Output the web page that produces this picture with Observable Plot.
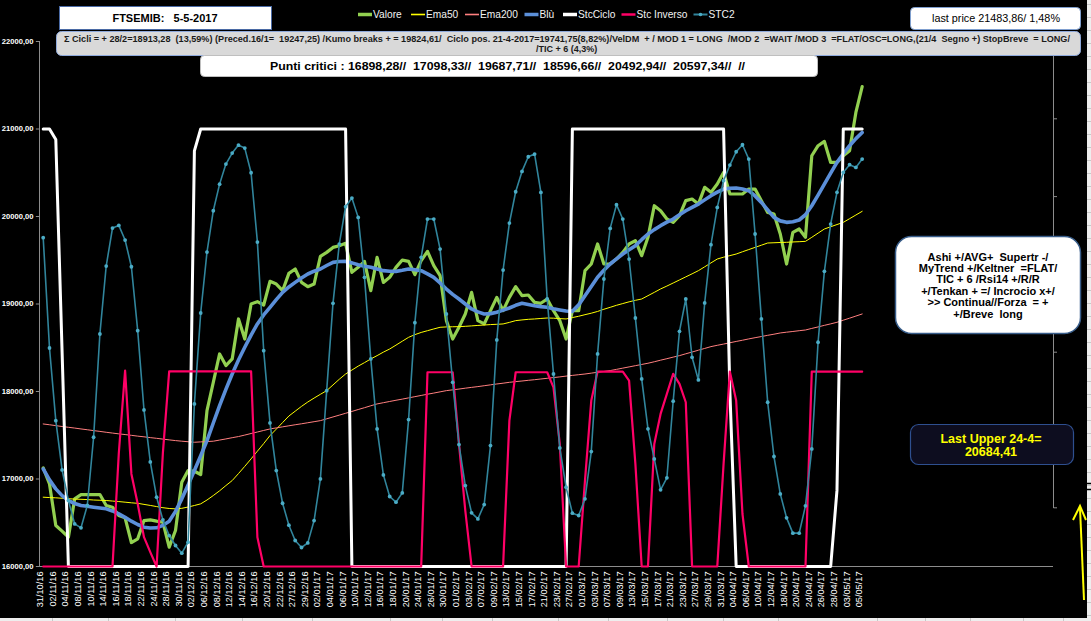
<!DOCTYPE html>
<html><head><meta charset="utf-8">
<script src="https://cdn.jsdelivr.net/npm/d3@7"></script>
<script src="https://cdn.jsdelivr.net/npm/@observablehq/plot@0.6"></script>
<style>
html,body{margin:0;padding:0;background:#000;width:1091px;height:621px;overflow:hidden}
#wrap{position:relative;width:1091px;height:621px;background:#000}
#wrap > svg{position:absolute;left:0;top:0}
</style></head>
<body><div id="wrap"></div>
<script>
// ---- tick labels (every other trading day) ----
const xLabels = ["31/10/16","02/11/16","04/11/16","08/11/16","10/11/16","14/11/16","16/11/16","18/11/16","22/11/16","24/11/16","28/11/16","30/11/16","02/12/16","06/12/16","08/12/16","12/12/16","14/12/16","16/12/16","20/12/16","22/12/16","27/12/16","29/12/16","02/01/17","04/01/17","06/01/17","10/01/17","12/01/17","16/01/17","18/01/17","20/01/17","24/01/17","26/01/17","30/01/17","01/02/17","03/02/17","07/02/17","09/02/17","13/02/17","15/02/17","17/02/17","21/02/17","23/02/17","27/02/17","01/03/17","03/03/17","07/03/17","09/03/17","13/03/17","15/03/17","17/03/17","21/03/17","23/03/17","27/03/17","29/03/17","31/03/17","04/04/17","06/04/17","10/04/17","12/04/17","18/04/17","20/04/17","24/04/17","26/04/17","28/04/17","03/05/17","05/05/17"];
const yTicks = [16000,17000,18000,19000,20000,21000,22000];

// ---- series (one value per trading day, 131 days) ----
const valore = [17127,16944,16468,16404,16335,16773,16822,16822,16822,16822,16697,16678,16582,16556,16274,16316,16525,16533,16518,16506,16221,16411,16963,17097,17089,17051,17782,18105,18429,18296,18372,18829,18600,19000,19027,18989,19259,19228,19152,19350,19400,19247,19198,19228,19544,19590,19647,19666,19693,19362,19419,19487,19152,19533,19247,19305,19419,19502,19487,19335,19495,19601,19438,19324,18810,18600,18734,18886,19133,18810,18772,18924,19076,18924,19076,19198,19095,19103,19019,19008,19057,18924,18810,18600,18924,18924,19381,19457,19686,19457,19457,19514,19590,19686,19724,19552,19762,20123,20066,19971,19933,20009,20181,20200,20142,20333,20276,20371,20504,20257,20257,20257,20314,20314,20181,20047,20028,19800,19457,19819,19857,19762,20694,20809,20858,20618,20618,20694,20752,21189,21484];
const ema50 = [16792,16788,16785,16780,16775,16770,16768,16765,16760,16757,16754,16748,16742,16735,16728,16722,16710,16698,16685,16672,16663,16659,16665,16680,16697,16716,16760,16811,16865,16925,16982,17062,17145,17230,17318,17405,17496,17570,17645,17720,17775,17830,17880,17925,17968,18010,18075,18140,18200,18245,18290,18330,18372,18410,18450,18486,18530,18575,18619,18650,18675,18695,18715,18734,18738,18740,18741,18745,18750,18755,18760,18765,18768,18772,18790,18810,18818,18825,18829,18835,18840,18838,18833,18829,18845,18860,18878,18895,18915,18940,18962,18985,19005,19025,19042,19057,19095,19133,19172,19205,19240,19275,19310,19345,19381,19425,19470,19514,19535,19553,19571,19597,19622,19647,19672,19697,19700,19703,19705,19709,19712,19716,19762,19810,19857,19883,19908,19933,19975,20017,20059];
const ema200 = [17629,17620,17610,17600,17591,17582,17572,17563,17553,17544,17534,17525,17516,17508,17499,17490,17482,17473,17465,17456,17447,17439,17432,17426,17420,17424,17428,17432,17445,17458,17472,17485,17502,17520,17537,17555,17572,17584,17596,17608,17620,17631,17643,17655,17667,17688,17709,17730,17751,17772,17794,17815,17837,17858,17872,17886,17900,17913,17927,17941,17955,17969,17982,17996,18010,18019,18028,18038,18047,18056,18066,18076,18086,18095,18105,18113,18120,18128,18135,18143,18151,18159,18167,18176,18184,18192,18200,18210,18220,18229,18239,18253,18267,18281,18295,18309,18323,18340,18358,18375,18393,18410,18431,18451,18472,18492,18513,18528,18542,18557,18572,18586,18601,18615,18628,18642,18655,18669,18678,18686,18695,18703,18721,18738,18756,18773,18791,18815,18838,18862,18886];
const blu = [17115,16990,16887,16810,16754,16720,16697,16688,16678,16668,16659,16635,16602,16562,16518,16480,16449,16440,16442,16470,16518,16630,16773,16930,17097,17265,17439,17640,17839,18025,18200,18360,18505,18645,18772,18875,18962,19050,19133,19195,19247,19298,19343,19375,19400,19440,19476,19485,19487,19470,19449,19432,19419,19400,19381,19375,19373,19385,19400,19392,19381,19345,19305,19240,19171,19110,19057,19000,18943,18910,18886,18890,18905,18930,18954,18985,19008,18995,18981,18970,18962,18945,18932,18920,18916,18990,19095,19200,19305,19385,19457,19515,19571,19620,19667,19735,19800,19850,19895,19935,19971,20020,20066,20105,20142,20190,20238,20278,20314,20322,20325,20315,20295,20235,20161,20075,19990,19950,19933,19940,19960,20020,20123,20245,20371,20495,20618,20715,20809,20890,20961];
const stcCiclo = [21000,21000,20880,18450,16000,16000,16000,16000,16000,16000,16000,16000,16000,16000,16000,16000,16000,16000,16000,16000,16000,16000,16000,16000,20750,21000,21000,21000,21000,21000,21000,21000,21000,21000,21000,21000,21000,21000,21000,21000,21000,21000,21000,21000,21000,21000,21000,21000,21000,16000,16000,16000,16000,16000,16000,16000,16000,16000,16000,16000,16000,16000,16000,16000,16000,16000,16000,16000,16000,16000,16000,16000,16000,16000,16000,16000,16000,16000,16000,16000,16000,16000,16000,16000,21000,21000,21000,21000,21000,21000,21000,21000,21000,21000,21000,21000,21000,21000,21000,21000,21000,21000,21000,21000,21000,21000,21000,21000,21000,18000,16000,16000,16000,16000,16000,16000,16000,16000,16000,16000,16000,16000,16000,16000,16000,16000,16870,21000,21000,21000,21000];
const stcInverso = [16000,16000,16000,16000,16000,16000,16000,16000,16000,16000,16000,16000,17291,18240,17058,16716,16335,16164,16000,17300,18231,18231,18231,18231,18231,18231,18231,18231,18231,18231,18231,18231,18231,18231,16335,16000,16000,16000,16000,16000,16000,16000,16000,16000,16000,16000,16000,16000,16000,16000,16000,16000,16000,16000,16000,16000,16000,16000,16000,16000,16000,18220,18220,18220,18220,18220,17400,16640,16000,16000,16000,16000,16000,16000,17667,18220,18220,18220,18220,18220,18220,18048,17400,16000,16000,16000,16983,17896,18227,18227,18227,18227,18227,18125,17173,16000,16000,17401,17744,17972,18201,18087,17877,16000,16000,16000,16000,16000,17173,18227,17896,16600,16000,16000,16000,16000,16000,16000,16000,16000,16000,16000,18227,18227,18227,18227,18227,18227,18227,18227,18227];
const stc2 = [19758,18497,17667,17104,16754,16487,16442,16697,17477,18657,19434,19868,19898,19731,19426,18695,17789,17195,16792,16533,16354,16240,16152,16278,17858,18897,19594,20066,20370,20599,20725,20816,20782,20500,19708,18467,17641,17096,16723,16472,16297,16217,16270,16525,17001,18010,19008,19685,20112,20211,19990,19305,18372,17572,17047,16800,16735,16841,17679,18787,19533,19971,19971,19628,18886,18105,17393,16925,16613,16544,16708,17382,18589,19388,19925,20283,20515,20683,20713,20275,19057,18200,17355,16906,16609,16583,16773,17314,18429,19286,19864,20135,19971,19514,18840,18144,17573,17230,16876,17013,17889,18688,19057,18391,18132,19012,19678,20104,20409,20588,20740,20820,20656,19800,18829,17877,17257,16830,16556,16381,16381,16693,17344,18563,19373,19914,20276,20504,20592,20561,20656];

const seriesNames = ["Valore","Ema50","Ema200","Blù","StcCiclo","Stc Inverso","STC2"];
const seriesColors = ["#92d050","#ffff00","#ff7f7f","#5b8fd9","#ffffff","#ff0066","#31859c"];

// ---- table ----
const rows = valore.map((v, i) => ({i, valore: v, ema50: ema50[i], ema200: ema200[i], blu: blu[i], stcCiclo: stcCiclo[i], stcInverso: stcInverso[i], stc2: stc2[i]}));
const tickIdx = xLabels.map((_, k) => k * 2);

const fmt = d => d.toFixed(2).replace(".", ",");
const X0 = -0.587;

const chart = Plot.plot({
  width: 1091, height: 621,
  marginLeft: 39, marginRight: 38, marginTop: 41, marginBottom: 55,
  style: {background: "transparent", color: "#ffffff", fontFamily: "Liberation Sans, Arial, sans-serif"},
  x: {type: "linear", domain: [X0, 160.37], axis: null},
  y: {type: "linear", domain: [16000, 22000], axis: null},
  marks: [
    Plot.ruleX([X0], {y1: 16000, y2: 22000, stroke: "#8c8c8c", strokeWidth: 1}),
    Plot.ruleY([16000], {stroke: "#8c8c8c"}),
    Plot.ruleY(yTicks, {y: d => d, x1: X0 - 0.5, x2: X0, stroke: "#8c8c8c"}),
    Plot.text(yTicks, {y: d => d, text: fmt, frameAnchor: "left", dx: -6, textAnchor: "end", fill: "#ffffff", fontSize: 7.6, fontWeight: "bold"}),
    Plot.text(tickIdx, {x: d => d, text: d => xLabels[d / 2], frameAnchor: "bottom", rotate: -90, textAnchor: "end", dy: 5, fill: "#ffffff", fontSize: 9.2}),
    Plot.line(rows, {x: "i", y: "valore", stroke: seriesColors[0], strokeWidth: 3.2}),
    Plot.line(rows, {x: "i", y: "ema50", stroke: seriesColors[1], strokeWidth: 1}),
    Plot.line(rows, {x: "i", y: "ema200", stroke: seriesColors[2], strokeWidth: 1}),
    Plot.line(rows, {x: "i", y: "blu", stroke: seriesColors[3], strokeWidth: 3.6}),
    Plot.line(rows, {x: "i", y: "stcCiclo", stroke: seriesColors[4], strokeWidth: 3}),
    Plot.line(rows, {x: "i", y: "stcInverso", stroke: seriesColors[5], strokeWidth: 2.2}),
    Plot.line(rows, {x: "i", y: "stc2", stroke: seriesColors[6], strokeWidth: 1.6}),
    Plot.dot(rows, {x: "i", y: "stc2", r: 1.9, fill: "#4bacc6", stroke: null})
  ]
});
document.getElementById("wrap").appendChild(chart);

// ---- overlay: boxes, legend, annotations ----
const ov = d3.select("#wrap").append("svg").attr("width", 1091).attr("height", 621)
  .style("font-family", "Liberation Sans, Arial, sans-serif");

// spreadsheet strips at the bottom and right edges
ov.append("rect").attr("x", 0).attr("y", 618).attr("width", 1091).attr("height", 3).attr("fill", "#eeeeee");
[52, 108, 175, 242, 312, 390, 442, 492, 558, 608, 667, 723, 778, 877, 925, 970, 1023, 1063].forEach(x =>
  ov.append("line").attr("x1", x + 0.5).attr("x2", x + 0.5).attr("y1", 618).attr("y2", 621).attr("stroke", "#c8c8c8"));
ov.append("rect").attr("x", 1087).attr("y", 0).attr("width", 4).attr("height", 621).attr("fill", "#eeeeee");
d3.range(4, 621, 13).forEach(y =>
  ov.append("line").attr("x1", 1087).attr("x2", 1091).attr("y1", y + 0.5).attr("y2", y + 0.5).attr("stroke", "#c8c8c8"));
ov.append("line").attr("x1", 1086).attr("x2", 1091).attr("y1", 483.5).attr("y2", 483.5).attr("stroke", "#000").attr("stroke-width", 1.5);
ov.append("line").attr("x1", 1086).attr("x2", 1091).attr("y1", 489.5).attr("y2", 489.5).attr("stroke", "#000").attr("stroke-width", 1.5);

// right axis
ov.append("line").attr("x1", 1053.5).attr("x2", 1053.5).attr("y1", 41).attr("y2", 508).attr("stroke", "#8c8c8c");
d3.range(1, 7).forEach(k => ov.append("line").attr("x1", 1053.5).attr("x2", 1057).attr("y1", 41 + k * 77.8).attr("y2", 41 + k * 77.8).attr("stroke", "#8c8c8c"));

// title box
ov.append("rect").attr("x", 59.5).attr("y", 6.5).attr("width", 212).attr("height", 23).attr("fill", "#fff").attr("stroke", "#4a6aa5");
ov.append("text").attr("x", 165).attr("y", 22).attr("text-anchor", "middle").attr("font-size", 11).attr("font-weight", "bold")
  .attr("fill", "#000").style("white-space", "pre").text("FTSEMIB:   5-5-2017");

// legend
const legX = [358, 411, 465, 524.5, 563, 621.5, 693.5];
const legW = [3.5, 1.6, 1.6, 3.5, 3.5, 2.5, 2];
seriesNames.forEach((n, k) => {
  const g = ov.append("g");
  g.append("line").attr("x1", legX[k]).attr("x2", legX[k] + 14).attr("y1", 14.5).attr("y2", 14.5)
    .attr("stroke", seriesColors[k]).attr("stroke-width", legW[k]);
  if (k === 6) g.append("circle").attr("cx", legX[k] + 7).attr("cy", 14.5).attr("r", 1.8).attr("fill", "#4bacc6");
  g.append("text").attr("x", legX[k] + 15).attr("y", 18.3).attr("font-size", 10.2).attr("fill", "#f2f2f2").text(n);
});

// last price box
ov.append("rect").attr("x", 910.5).attr("y", 7.5).attr("width", 170).attr("height", 22).attr("rx", 4).attr("fill", "#fff").attr("stroke", "#7f9fcf");
ov.append("text").attr("x", 932).attr("y", 22).attr("font-size", 10.5).attr("fill", "#000")
  .attr("textLength", 128).attr("lengthAdjust", "spacingAndGlyphs").text("last price 21483,86/ 1,48%");

// grey info box
ov.append("rect").attr("x", 56.5).attr("y", 31.5).attr("width", 1024).attr("height", 24).attr("rx", 5).attr("fill", "#d9d9d9").attr("stroke", "#8ea9db");
ov.append("text").attr("x", 64).attr("y", 41.5).attr("font-size", 9).attr("font-weight", "bold").attr("fill", "#1a1a1a")
  .attr("textLength", 1006).attr("lengthAdjust", "spacingAndGlyphs").style("white-space", "pre")
  .text("Σ Cicli = + 28/2=18913,28  (13,59%) (Preced.16/1=  19247,25) /Kumo breaks + = 19824,61/  Ciclo pos. 21-4-2017=19741,75(8,82%)/VelDM  + / MOD 1 = LONG  /MOD 2  =WAIT /MOD 3  =FLAT/OSC=LONG,(21/4  Segno +) StopBreve  = LONG/");
ov.append("text").attr("x", 536).attr("y", 51.5).attr("font-size", 9).attr("font-weight", "bold").attr("fill", "#1a1a1a")
  .style("white-space", "pre").text("/TIC + 6 (4,3%)");

// punti critici box
ov.append("rect").attr("x", 200.5).attr("y", 55.5).attr("width", 617).attr("height", 21).attr("rx", 4).attr("fill", "#fff").attr("stroke", "#bfbfbf");
ov.append("text").attr("x", 270).attr("y", 70).attr("font-size", 11).attr("font-weight", "bold").attr("fill", "#000")
  .attr("textLength", 475).attr("lengthAdjust", "spacingAndGlyphs").style("white-space", "pre")
  .text("Punti critici : 16898,28//  17098,33//  19687,71//  18596,66//  20492,94//  20597,34//  //");

// signals box
const sigLines = ["Ashi +/AVG+  Supertr -/", "MyTrend +/Keltner  =FLAT/", "TIC + 6 /Rsi14 +/R/R", "+/Tenkan + =/ Incrocio x+/", ">> Continua//Forza  = +", "+/Breve  long"];
ov.append("rect").attr("x", 895.5).attr("y", 236.5).attr("width", 185).attr("height", 97).attr("rx", 16).attr("fill", "#fff").attr("stroke", "#385d8a").attr("stroke-width", 1.5);
sigLines.forEach((t, k) => ov.append("text").attr("x", 988).attr("y", 260.5 + k * 11.4).attr("text-anchor", "middle")
  .attr("font-size", 11).attr("font-weight", "bold").attr("fill", "#000").style("white-space", "pre").text(t));

// last upper box
ov.append("rect").attr("x", 910.5).attr("y", 424.5).attr("width", 163).attr("height", 40).attr("rx", 8).attr("fill", "#0d0d1f").attr("stroke", "#2e4f8f").attr("stroke-width", 1.2);
ov.append("text").attr("x", 991).attr("y", 443).attr("text-anchor", "middle").attr("font-size", 12.5).attr("font-weight", "bold").attr("fill", "#ffff00").text("Last Upper 24-4=");
ov.append("text").attr("x", 991).attr("y", 456).attr("text-anchor", "middle").attr("font-size", 12.5).attr("font-weight", "bold").attr("fill", "#ffff00").text("20684,41");

// yellow arrow at right edge
ov.append("line").attr("x1", 1084).attr("y1", 600).attr("x2", 1080).attr("y2", 508).attr("stroke", "#ffff00").attr("stroke-width", 2);
ov.append("path").attr("d", "M1073,520 L1080,506 L1086,520").attr("fill", "none").attr("stroke", "#ffff00").attr("stroke-width", 2);
</script>
</body></html>
